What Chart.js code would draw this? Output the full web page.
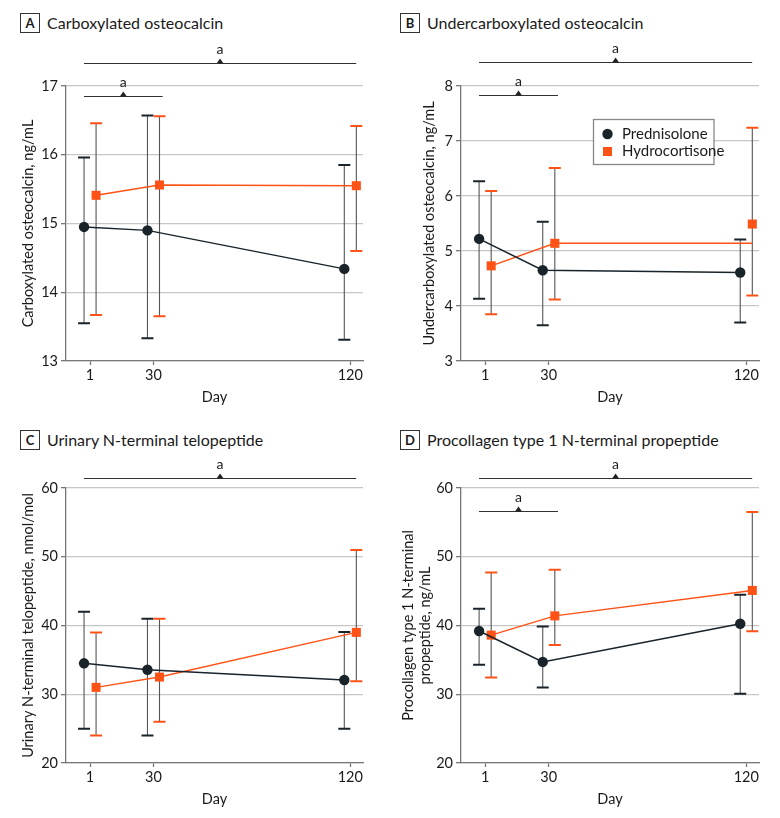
<!DOCTYPE html>
<html>
<head>
<meta charset="utf-8">
<script src="https://cdn.jsdelivr.net/npm/chart.js@4.4.1/dist/chart.umd.min.js"></script>
<style>
  body { margin: 0; background: #fff; font-family: Lato, "Noto Sans", sans-serif; }
  #wrap { position: relative; width: 780px; height: 818px; }
  canvas { position: absolute; }
  .ttl { position: absolute; font-size: 16px; color: #1a1a1a; line-height: 20px; white-space: nowrap; }
  .ttl b { display: inline-block; box-sizing: border-box; width: 20px; height: 20px; border: 1.3px solid #333;
           text-align: center; line-height: 18px; margin-right: 7px; font-size: 13px; vertical-align: top; }
</style>
</head>
<body>
<div id="wrap">
  <div class="ttl" style="left:20px;top:13px"><b>A</b>Carboxylated osteocalcin</div>
  <div class="ttl" style="left:400px;top:13px"><b>B</b>Undercarboxylated osteocalcin</div>
  <div class="ttl" style="left:20px;top:430px"><b>C</b>Urinary N-terminal telopeptide</div>
  <div class="ttl" style="left:400px;top:430px"><b>D</b>Procollagen type 1 N-terminal propeptide</div>
  <canvas id="cA"></canvas>
  <canvas id="cB"></canvas>
  <canvas id="cC"></canvas>
  <canvas id="cD"></canvas>
</div>
<script>
// days and x ticks
const days = [1, 30, 120];
const xTicks = [1, 30, 120];

// A - carboxylated osteocalcin (ng/mL)
const carbPred = [14.95, 14.90, 14.34];
const carbPredLow = [13.55, 13.33, 13.31];
const carbPredHigh = [15.96, 16.57, 15.85];
const carbHydro = [15.41, 15.56, 15.55];
const carbHydroLow = [13.67, 13.65, 14.60];
const carbHydroHigh = [16.46, 16.56, 16.42];
const carbTicks = [13, 14, 15, 16, 17];

// B - undercarboxylated osteocalcin (ng/mL)
const ucPred = [5.22, 4.65, 4.61];
const ucPredLow = [4.13, 3.65, 3.70];
const ucPredHigh = [6.27, 5.53, 5.21];
const ucHydro = [4.73, 5.14, 5.49];
const ucHydroLow = [3.85, 4.12, 4.19];
const ucHydroHigh = [6.09, 6.51, 7.24];
const ucHydroLine = [4.73, 5.14, 5.14]; // the orange line in the original stays flat to day 120
const ucTicks = [3, 4, 5, 6, 7, 8];

// C - urinary NTX (nmol/mol)
const ntxPred = [34.5, 33.57, 32.07];
const ntxPredLow = [25.0, 24.0, 25.0];
const ntxPredHigh = [42.0, 41.0, 39.05];
const ntxHydro = [31.0, 32.5, 39.0];
const ntxHydroLow = [24.0, 26.0, 31.9];
const ntxHydroHigh = [39.0, 41.0, 51.0];
const ntxTicks = [20, 30, 40, 50, 60];

// D - P1NP (ng/mL)
const p1npPred = [39.2, 34.7, 40.26];
const p1npPredLow = [34.3, 31.0, 30.08];
const p1npPredHigh = [42.45, 39.87, 44.48];
const p1npHydro = [38.6, 41.4, 45.1];
const p1npHydroLow = [32.45, 37.16, 39.15];
const p1npHydroHigh = [47.7, 48.1, 56.5];
const p1npTicks = [20, 30, 40, 50, 60];

// significance brackets: [from day, to day, y value]
const carbBrackets = [[-1.8, 122.7, 17.34], [-1.8, 34.2, 16.86]];
const ucBrackets = [[-1.8, 122.7, 8.43], [-1.8, 34.2, 7.83]];
const ntxBrackets = [[-1.8, 122.7, 61.45]];
const p1npBrackets = [[-1.8, 122.7, 61.45], [-1.8, 34.2, 56.65]];

const dodge = 2.75;
const DARK = '#18232a';
const ORANGE = '#ff5217';
const STEM = '#555';
const GRID = '#c6c6c6';
const AXIS = '#777';
const TEXT = '#1a1a1a';
const FONT = 'Lato, "Noto Sans", sans-serif';

const errorBars = {
    id: 'errorBars',
    beforeDatasetsDraw(chart, args, opts) {
        const ctx = chart.ctx;
        const x = chart.scales.x, y = chart.scales.y;
        opts.series.forEach(function(s) {
            days.forEach(function(d, i) {
                const px = x.getPixelForValue(d + s.shift);
                const lo = y.getPixelForValue(s.low[i]);
                const hi = y.getPixelForValue(s.high[i]);
                ctx.save();
                ctx.strokeStyle = STEM;
                ctx.lineWidth = 1.1;
                ctx.beginPath();
                ctx.moveTo(px, lo);
                ctx.lineTo(px, hi);
                ctx.stroke();
                ctx.strokeStyle = s.color;
                ctx.lineWidth = 2;
                ctx.beginPath();
                ctx.moveTo(px - 6, lo); ctx.lineTo(px + 6, lo);
                ctx.moveTo(px - 6, hi); ctx.lineTo(px + 6, hi);
                ctx.stroke();
                ctx.restore();
            });
        });
    }
};

const brackets = {
    id: 'brackets',
    afterDraw(chart, args, opts) {
        const ctx = chart.ctx;
        const x = chart.scales.x, y = chart.scales.y;
        opts.items.forEach(function(b) {
            const x0 = x.getPixelForValue(b[0]);
            const x1 = x.getPixelForValue(b[1]);
            const py = Math.round(y.getPixelForValue(b[2])) + 0.5;
            const mid = (x0 + x1) / 2;
            ctx.save();
            ctx.strokeStyle = '#333';
            ctx.lineWidth = 1;
            ctx.beginPath();
            ctx.moveTo(x0, py);
            ctx.lineTo(x1, py);
            ctx.stroke();
            ctx.fillStyle = '#222';
            ctx.beginPath();
            ctx.moveTo(mid - 3.5, py);
            ctx.lineTo(mid + 3.5, py);
            ctx.lineTo(mid, py - 5);
            ctx.closePath();
            ctx.fill();
            ctx.font = '14px ' + FONT;
            ctx.textAlign = 'center';
            ctx.textBaseline = 'alphabetic';
            ctx.fillStyle = TEXT;
            ctx.fillText('a', mid, py - 10);
            ctx.restore();
        });
    }
};

const boxLegend = {
    id: 'boxLegend',
    afterDatasetsDraw(chart, args, opts) {
        if (!opts.box) return;
        const ctx = chart.ctx;
        const b = opts.box;
        ctx.save();
        ctx.fillStyle = '#fff';
        ctx.fillRect(b.x, b.y, b.w, b.h);
        ctx.strokeStyle = '#888';
        ctx.lineWidth = 1.3;
        ctx.strokeRect(b.x, b.y, b.w, b.h);
        const items = chart.data.datasets.filter(function(ds) { return ds.label; });
        ctx.font = '15px ' + FONT;
        ctx.textBaseline = 'middle';
        ctx.textAlign = 'left';
        items.forEach(function(ds, i) {
            const cy = b.y + 14.5 + i * 17.5;
            const cx = b.x + 14;
            ctx.fillStyle = ds.pointBackgroundColor;
            if (ds.pointStyle === 'rect') {
                ctx.fillRect(cx - 4.5, cy - 4.5, 9, 9);
            } else {
                ctx.beginPath();
                ctx.arc(cx, cy, 5.2, 0, Math.PI * 2);
                ctx.fill();
            }
            ctx.fillStyle = TEXT;
            ctx.fillText(ds.label, b.x + 28.5, cy);
        });
        ctx.restore();
    }
};

function points(vals, shift) {
    return days.map(function(d, i) { return {x: d + shift, y: vals[i]}; });
}

function makePanel(p) {
    const cv = document.getElementById(p.canvas);
    cv.width = p.w;
    cv.height = p.h;
    cv.style.left = p.left + 'px';
    cv.style.top = p.top + 'px';

    const datasets = [{
        label: 'Prednisolone',
        data: points(p.pred, -dodge),
        showLine: true,
        borderColor: DARK,
        borderWidth: 1.5,
        pointStyle: 'circle',
        pointRadius: 5.2,
        pointBackgroundColor: DARK,
        pointBorderColor: DARK,
        pointBorderWidth: 0
    }, {
        label: 'Hydrocortisone',
        data: points(p.hydro, dodge),
        showLine: !p.hydroLine,
        borderColor: ORANGE,
        borderWidth: 1.5,
        pointStyle: 'rect',
        pointRadius: 6.4,
        pointBackgroundColor: ORANGE,
        pointBorderColor: ORANGE,
        pointBorderWidth: 0
    }];
    if (p.hydroLine) {
        datasets.push({
            label: '',
            data: points(p.hydroLine, dodge),
            showLine: true,
            borderColor: ORANGE,
            borderWidth: 1.5,
            pointRadius: 0
        });
    }

    return new Chart(cv.getContext('2d'), {
        type: 'scatter',
        data: { datasets: datasets },
        plugins: [errorBars, brackets, boxLegend],
        options: {
            responsive: false,
            animation: false,
            devicePixelRatio: 1,
            layout: { padding: { left: 0, right: p.w - p.area.r, top: p.area.t, bottom: 0 } },
            plugins: {
                legend: { display: false },
                tooltip: { enabled: false },
                errorBars: { series: [
                    { shift: -dodge, low: p.predLow, high: p.predHigh, color: DARK },
                    { shift: dodge, low: p.hydroLow, high: p.hydroHigh, color: ORANGE }
                ] },
                brackets: { items: p.brackets },
                boxLegend: { box: p.legend }
            },
            scales: {
                x: {
                    type: 'linear',
                    min: -10,
                    max: 125.8,
                    afterBuildTicks: function(s) { s.ticks = xTicks.map(function(v) { return {value: v}; }); },
                    afterFit: function(s) { s.height = p.h - p.area.b; },
                    grid: { drawOnChartArea: false, drawTicks: true, tickLength: 4, tickColor: AXIS, tickWidth: 1.3 },
                    border: { color: AXIS, width: 1.3 },
                    ticks: { color: TEXT, font: { family: FONT, size: 14.5 }, padding: 2, autoSkip: false, maxRotation: 0 },
                    title: { display: true, text: 'Day', color: TEXT, font: { family: FONT, size: 14.5, lineHeight: 1.2 },
                             padding: { top: 0, bottom: p.dayPad } }
                },
                y: {
                    min: p.ticks[0],
                    max: p.ticks[p.ticks.length - 1],
                    afterBuildTicks: function(s) { s.ticks = p.ticks.map(function(v) { return {value: v}; }); },
                    afterFit: function(s) { s.width = p.area.l; },
                    grid: { color: GRID, lineWidth: 1.3, drawTicks: true, tickLength: 5, tickColor: AXIS, tickWidth: 1.3 },
                    border: { color: AXIS, width: 1.3 },
                    ticks: { color: TEXT, font: { family: FONT, size: 14.5 }, padding: 3 },
                    title: { display: true, text: p.yTitle, color: TEXT, font: { family: FONT, size: 14.5, lineHeight: 1.22 },
                             padding: { top: p.yPad, bottom: 0 } }
                }
            }
        }
    });
}

makePanel({
    canvas: 'cA', left: 0, top: 0, w: 390, h: 410,
    area: { l: 66, r: 363, t: 86, b: 361 }, dayPad: 4, yPad: 19,
    pred: carbPred, predLow: carbPredLow, predHigh: carbPredHigh,
    hydro: carbHydro, hydroLow: carbHydroLow, hydroHigh: carbHydroHigh,
    ticks: carbTicks, brackets: carbBrackets,
    yTitle: 'Carboxylated osteocalcin, ng/mL'
});

makePanel({
    canvas: 'cB', left: 390, top: 0, w: 390, h: 410,
    area: { l: 71, r: 369, t: 86, b: 361 }, dayPad: 4, yPad: 30,
    pred: ucPred, predLow: ucPredLow, predHigh: ucPredHigh,
    hydro: ucHydro, hydroLow: ucHydroLow, hydroHigh: ucHydroHigh, hydroLine: ucHydroLine,
    ticks: ucTicks, brackets: ucBrackets,
    legend: { x: 203.5, y: 119.5, w: 120.5, h: 45 },
    yTitle: 'Undercarboxylated osteocalcin, ng/mL'
});

makePanel({
    canvas: 'cC', left: 0, top: 410, w: 390, h: 408,
    area: { l: 66, r: 363, t: 78, b: 353 }, dayPad: 10, yPad: 19,
    pred: ntxPred, predLow: ntxPredLow, predHigh: ntxPredHigh,
    hydro: ntxHydro, hydroLow: ntxHydroLow, hydroHigh: ntxHydroHigh,
    ticks: ntxTicks, brackets: ntxBrackets,
    yTitle: 'Urinary N-terminal telopeptide, nmol/mol'
});

makePanel({
    canvas: 'cD', left: 390, top: 410, w: 390, h: 408,
    area: { l: 71, r: 369, t: 78, b: 353 }, dayPad: 10, yPad: 9,
    pred: p1npPred, predLow: p1npPredLow, predHigh: p1npPredHigh,
    hydro: p1npHydro, hydroLow: p1npHydroLow, hydroHigh: p1npHydroHigh,
    ticks: p1npTicks, brackets: p1npBrackets,
    yTitle: ['Procollagen type 1 N-terminal', 'propeptide, ng/mL']
});
</script>
</body>
</html>
